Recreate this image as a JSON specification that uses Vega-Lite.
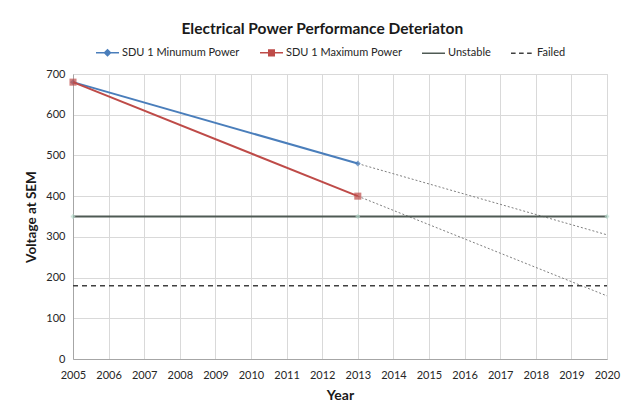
{
  "$schema": "https://vega.github.io/schema/vega-lite/v6.json",
  "width": 534,
  "height": 285,
  "autosize": {"type": "none"},
  "padding": {"left": 73, "top": 74, "right": 15, "bottom": 46},
  "background": "white",
  "title": {
    "text": "Electrical Power Performance Deteriaton",
    "anchor": "middle",
    "frame": "bounds",
    "font": "Lato",
    "fontSize": 15.5,
    "fontWeight": "bold",
    "color": "#1a1a1a",
    "offset": 3
  },
  "config": {
    "font": "Lato",
    "view": {"stroke": "#d9d9d9"},
    "axis": {
      "labelFont": "Lato",
      "labelFontSize": 11,
      "labelColor": "#262626",
      "titleFont": "Lato",
      "titleFontSize": 14,
      "titleFontWeight": "bold",
      "titleColor": "#1a1a1a",
      "gridColor": "#d9d9d9",
      "gridOpacity": 1,
      "domainColor": "#a6a6a6",
      "ticks": false,
      "labelPadding": 8,
      "labelOverlap": false,
      "labelFlush": false,
      "labelBound": false
    }
  },
  "datasets": {
    "main": [
      {"series": "SDU 1 Minumum Power", "year": 2005, "value": 680},
      {"series": "SDU 1 Minumum Power", "year": 2013, "value": 480},
      {"series": "SDU 1 Maximum Power", "year": 2005, "value": 680},
      {"series": "SDU 1 Maximum Power", "year": 2013, "value": 400},
      {"series": "Unstable", "year": 2005, "value": 350},
      {"series": "Unstable", "year": 2013, "value": 350},
      {"series": "Unstable", "year": 2020, "value": 350},
      {"series": "Failed", "year": 2005, "value": 180},
      {"series": "Failed", "year": 2020, "value": 180}
    ],
    "trend": [
      {"series": "SDU 1 Minumum Power", "year": 2013, "value": 480},
      {"series": "SDU 1 Minumum Power", "year": 2020, "value": 305},
      {"series": "SDU 1 Maximum Power", "year": 2013, "value": 400},
      {"series": "SDU 1 Maximum Power", "year": 2020, "value": 155}
    ]
  },
  "encoding": {
    "x": {
      "field": "year",
      "type": "quantitative",
      "scale": {"domain": [2005, 2020], "nice": false, "zero": false},
      "axis": {
        "title": "Year",
        "values": [2005, 2006, 2007, 2008, 2009, 2010, 2011, 2012, 2013, 2014, 2015, 2016, 2017, 2018, 2019, 2020],
        "format": "d",
        "labelPadding": 10,
        "titlePadding": 8
      }
    },
    "y": {
      "field": "value",
      "type": "quantitative",
      "scale": {"domain": [0, 700], "nice": false},
      "axis": {
        "title": "Voltage at SEM",
        "titleFontSize": 13.5,
        "values": [0, 100, 200, 300, 400, 500, 600, 700],
        "titlePadding": 7
      }
    }
  },
  "layer": [
    {
      "data": {"name": "trend"},
      "transform": [{"filter": "datum.series === 'SDU 1 Minumum Power'"}],
      "mark": {"type": "line", "color": "#7f7f7f", "strokeWidth": 1, "strokeDash": [2, 2]}
    },
    {
      "data": {"name": "trend"},
      "transform": [{"filter": "datum.series === 'SDU 1 Maximum Power'"}],
      "mark": {"type": "line", "color": "#7f7f7f", "strokeWidth": 1, "strokeDash": [2, 2]}
    },
    {
      "data": {"name": "main"},
      "transform": [{"filter": "datum.series === 'Failed'"}],
      "mark": {"type": "line", "color": "#404040", "strokeWidth": 1.5, "strokeDash": [5, 4]}
    },
    {
      "data": {"name": "main"},
      "transform": [{"filter": "datum.series === 'Unstable'"}],
      "mark": {"type": "line", "color": "#4f5a54", "strokeWidth": 2}
    },
    {
      "data": {"name": "main"},
      "transform": [{"filter": "datum.series === 'Unstable'"}],
      "mark": {"type": "point", "shape": "cross", "filled": true, "color": "#b7dccd", "size": 20}
    },
    {
      "data": {"name": "main"},
      "transform": [{"filter": "datum.series === 'SDU 1 Minumum Power'"}],
      "mark": {"type": "line", "color": "#4a7ebb", "strokeWidth": 2}
    },
    {
      "data": {"name": "main"},
      "transform": [{"filter": "datum.series === 'SDU 1 Minumum Power'"}],
      "mark": {"type": "point", "shape": "diamond", "filled": true, "color": "#4a7ebb", "size": 35}
    },
    {
      "data": {"name": "main"},
      "transform": [{"filter": "datum.series === 'SDU 1 Maximum Power'"}],
      "mark": {"type": "line", "color": "#be4b48", "strokeWidth": 2}
    },
    {
      "data": {"name": "main"},
      "transform": [{"filter": "datum.series === 'SDU 1 Maximum Power'"}],
      "mark": {"type": "point", "shape": "square", "filled": true, "color": "#be4b48", "size": 50}
    },
    {
      "data": {"name": "main"},
      "mark": {"type": "point", "filled": true, "opacity": 0},
      "encoding": {
        "fill": {
          "field": "series",
          "type": "nominal",
          "scale": {
            "domain": ["SDU 1 Minumum Power", "SDU 1 Maximum Power", "Unstable", "Failed"],
            "range": ["#4a7ebb", "#be4b48", "#4f5a54", "#404040"]
          },
          "legend": {
            "orient": "none",
            "legendX": 22,
            "legendY": -34,
            "direction": "horizontal",
            "title": null,
            "symbolSize": 529,
            "symbolStrokeWidth": 1.5,
            "labelFont": "Lato",
            "labelFontSize": 11,
            "labelColor": "#262626",
            "labelOffset": 2,
            "columnPadding": 17,
            "encode": {"symbols": {"update": {"opacity": {"value": 1}}}}
          }
        },
        "stroke": {
          "field": "series",
          "type": "nominal",
          "scale": {
            "domain": ["SDU 1 Minumum Power", "SDU 1 Maximum Power", "Unstable", "Failed"],
            "range": ["#4a7ebb", "#be4b48", "#4f5a54", "#404040"]
          }
        },
        "shape": {
          "field": "series",
          "type": "nominal",
          "scale": {
            "domain": ["SDU 1 Minumum Power", "SDU 1 Maximum Power", "Unstable", "Failed"],
            "range": [
              "M-1,0H1M0,-0.26L0.26,0L0,0.26L-0.26,0Z",
              "M-1,0H1M-0.24,-0.24H0.24V0.24H-0.24Z",
              "M-1,0H1",
              "M-1,0H-0.6M-0.3,0H0.1M0.4,0H0.8"
            ]
          }
        }
      }
    }
  ]
}
